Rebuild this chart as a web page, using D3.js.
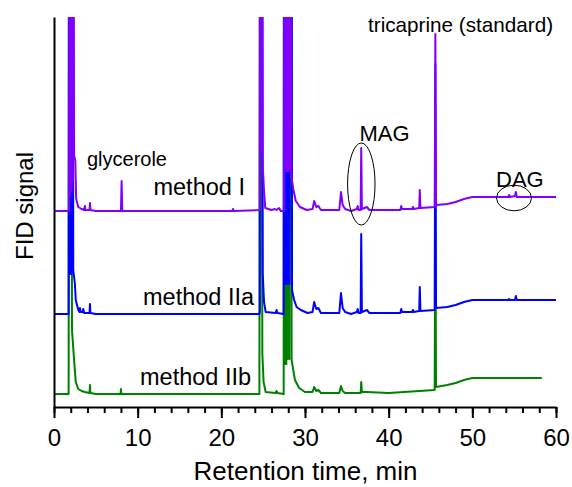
<!DOCTYPE html>
<html>
<head>
<meta charset="utf-8">
<script src="https://cdn.jsdelivr.net/npm/d3@7"></script>
<style>
  body { margin: 0; background: #fff; }
  text { font-family: "Liberation Sans", Arial, sans-serif; fill: #000; }
</style>
</head>
<body>
<script>
// retention time (min) vs. signal height above each trace's own baseline
const methodI = [
  [0, 0], [1.8, 0], [1.85, 600], [1.95, 15], [2.0, 600], [2.1, 20], [2.15, 600], [2.25, 30], [2.3, 600],
  [2.4, 56], [2.55, 50], [2.65, 12], [2.9, 4], [3.3, 2],
  [3.6, 1], [3.7, 5], [3.75, 1], [4.25, 1], [4.3, 8], [4.35, 1], [5, 0], [8.0, 0], [8.08, 30], [8.16, 0],
  [21.3, 0], [21.4, 2], [21.5, 0], [24.6, 1], [24.65, 600], [24.72, 60], [24.78, 600], [24.85, 600],
  [24.95, 46], [25.1, 20],
  [25.25, 3], [26, 1], [26.4, 2], [26.6, 1], [26.9, 3], [27.1, 0], [27.5, 0], [27.55, 600], [27.65, 40],
  [27.72, 600], [27.82, 40], [27.9, 600], [28.0, 40], [28.07, 600], [28.17, 40], [28.24, 600], [28.3, 600],
  [28.35, 36], [28.6, 22], [28.9, 10], [29.4, 4], [30.2, 1], [30.9, 2], [31.1, 10], [31.35, 4], [31.6, 5],
  [31.9, 1], [34.1, 1], [34.3, 19], [34.5, 6], [34.8, 2], [35.5, 0], [36.2, 2], [36.3, 5], [36.4, 1],
  [36.65, 1], [36.72, 63], [36.8, 2], [37.4, 4], [37.7, 1], [40, 1], [41.4, 1], [41.5, 5], [41.6, 2],
  [42.8, 2], [42.9, 4], [43.0, 2], [43.65, 3], [43.72, 21], [43.8, 3], [45.5, 4], [45.58, 177], [45.66, 6],
  [47, 7], [48, 9], [49, 12], [50, 14], [54.3, 14], [54.4, 16], [54.5, 14], [55.1, 15], [55.2, 19],
  [55.3, 14], [60, 14]
];
const methodIIa = [
  [0, 0], [1.75, 0], [1.8, 600], [1.9, 40], [1.97, 600], [2.07, 40], [2.14, 600], [2.25, 600],
  [2.3, 44], [2.5, 30], [2.6, 14], [2.9, 4], [3.05, 2],
  [3.1, 6], [3.2, 2], [3.45, 2], [3.5, 5], [3.6, 1], [4.25, 1], [4.3, 10], [4.35, 1], [5, 0],
  [24.55, 0], [24.6, 3], [24.62, 600], [24.85, 600], [24.95, 40], [25.1, 12], [25.3, 2], [26.5, 1],
  [26.6, 4], [26.7, 1], [27.45, 0], [27.5, 600], [27.6, 30], [27.67, 600], [27.77, 30], [27.85, 600],
  [27.95, 30], [28.03, 600], [28.13, 30], [28.2, 600], [28.4, 600], [28.45, 24], [28.7, 14], [29, 7],
  [29.5, 4], [30.3, 1], [30.9, 2], [31.1, 12], [31.35, 5], [31.6, 6], [31.9, 1], [34.1, 1], [34.3, 21],
  [34.5, 6], [34.8, 2], [35.5, 0], [36.2, 2], [36.3, 5], [36.4, 1], [36.65, 1], [36.72, 80], [36.8, 2],
  [37.4, 4], [37.7, 1], [40, 1], [41.4, 1], [41.5, 5], [41.6, 2], [42.8, 2], [42.9, 4], [43.0, 2],
  [43.65, 3], [43.72, 27], [43.8, 3], [45.5, 4], [45.58, 250], [45.66, 6], [47, 7], [48, 9], [49, 12],
  [50, 14], [54.3, 14], [54.4, 15], [54.5, 14], [55.1, 14], [55.2, 18], [55.3, 14], [60, 14]
];
const methodIIb = [
  [0, 0], [1.75, 0], [1.8, 600], [2.05, 600], [2.15, 64], [2.35, 40], [2.6, 12], [2.9, 5], [3.3, 3],
  [3.7, 2], [4.25, 1], [4.3, 9], [4.35, 1], [5, 0], [7.95, 0], [8.0, 5], [8.05, 0], [24.55, 0],
  [24.62, 600], [24.8, 600], [24.9, 41], [25.05, 12], [25.3, 2], [26.5, 1], [26.6, 3], [26.7, 1],
  [27.45, 0], [27.5, 600], [27.6, 30], [27.67, 600], [27.77, 30], [27.85, 600], [27.95, 35], [28.03, 600],
  [28.13, 35], [28.2, 600], [28.35, 600], [28.4, 34], [28.8, 14], [29.3, 6], [30, 2], [30.9, 2],
  [31.1, 7], [31.35, 3], [31.6, 4], [31.9, 1], [34.1, 1], [34.3, 8], [34.5, 3], [34.8, 1], [36.65, 1],
  [36.72, 12], [36.8, 2], [37.4, 2], [40, 1], [45.5, 4], [45.58, 200], [45.66, 7], [47, 9], [48, 11],
  [49, 14], [50, 16], [58.3, 16]
];

// vertical offset of each chromatogram (stacked plot)
const traceNames = ['method IIb', 'method IIa', 'method I'];
const traceOffsets = [13, 93, 196];
const traceColors = ['#008000', '#0000ff', '#8000ff'];
const traceData = [methodIIb, methodIIa, methodI];

const xTicks = [0, 10, 20, 30, 40, 50, 60];
const xMinorTicks = d3.range(0, 61, 2);

// labels: [text, time, signal, font size]
const labels = [
  ['glycerole', 3.94, 241.5, 20],
  ['method I', 11.89, 212, 23.5],
  ['method IIa', 10.64, 102, 23.5],
  ['method IIb', 10.28, 22, 23.5],
  ['MAG', 36.51, 266.5, 22],
  ['DAG', 52.83, 220.5, 22],
  ['tricaprine (standard)', 37.53, 375, 20.7]
];
// ellipses: [time, signal, rx (min), ry (signal)]
const marks = [
  [36.73, 223, 1.64, 41],
  [54.98, 209, 2.09, 12.8]
];

const W = 572, H = 487;
const margin = { top: 17, right: 16, bottom: 80, left: 54 };

const svg = d3.select('body').append('svg').attr('width', W).attr('height', H);

const x = d3.scaleLinear().domain([0, 60]).range([margin.left, W - margin.right]);
const y = d3.scaleLinear().domain([0, 390]).range([H - margin.bottom, margin.top]);

svg.append('clipPath').attr('id', 'plot')
  .append('rect')
  .attr('x', margin.left).attr('y', margin.top)
  .attr('width', W - margin.left).attr('height', y(0) - margin.top);

const line = d3.line().x(d => x(d[0]));

const traces = svg.append('g').attr('clip-path', 'url(#plot)');
traceData.forEach((data, i) => {
  traces.append('path')
    .datum(data)
    .attr('fill', 'none')
    .attr('stroke', traceColors[i])
    .attr('stroke-width', 2)
    .attr('stroke-linejoin', 'round')
    .attr('d', line.y(d => y(d[1] + traceOffsets[i])));
});

// minor ticks first, then the main axis on top
svg.append('g')
  .attr('transform', `translate(0,${y(0)})`)
  .call(d3.axisBottom(x).tickValues(xMinorTicks).tickSize(6).tickFormat(''))
  .call(g => g.select('.domain').remove())
  .call(g => g.selectAll('line').attr('stroke-width', 2));

svg.append('g')
  .attr('transform', `translate(0,${y(0)})`)
  .call(d3.axisBottom(x).tickValues(xTicks).tickSize(11).tickSizeOuter(0).tickPadding(11))
  .call(g => g.select('.domain').attr('stroke-width', 2))
  .call(g => g.selectAll('line').attr('stroke-width', 2))
  .call(g => g.selectAll('text').attr('font-size', 24).attr('font-family', null));

svg.append('g')
  .attr('transform', `translate(${x(0)},0)`)
  .call(d3.axisLeft(y).tickValues([]).tickSizeOuter(0))
  .call(g => g.select('.domain').attr('stroke-width', 2));

svg.append('text')
  .attr('x', 305.5)
  .attr('y', 480)
  .attr('text-anchor', 'middle')
  .attr('font-size', 26)
  .text('Retention time, min');

svg.append('text')
  .attr('transform', `translate(33,${206}) rotate(-90)`)
  .attr('text-anchor', 'middle')
  .attr('font-size', 24)
  .text('FID signal');

svg.selectAll('.lbl')
  .data(labels)
  .join('text')
  .attr('class', 'lbl')
  .attr('x', d => x(d[1]))
  .attr('y', d => y(d[2]))
  .attr('font-size', d => d[3])
  .text(d => d[0]);

svg.selectAll('.mark')
  .data(marks)
  .join('ellipse')
  .attr('class', 'mark')
  .attr('cx', d => x(d[0]))
  .attr('cy', d => y(d[1]))
  .attr('rx', d => x(d[2]) - x(0))
  .attr('ry', d => y(0) - y(d[3]))
  .attr('fill', 'none')
  .attr('stroke', '#000')
  .attr('stroke-width', 1);
</script>
</body>
</html>
